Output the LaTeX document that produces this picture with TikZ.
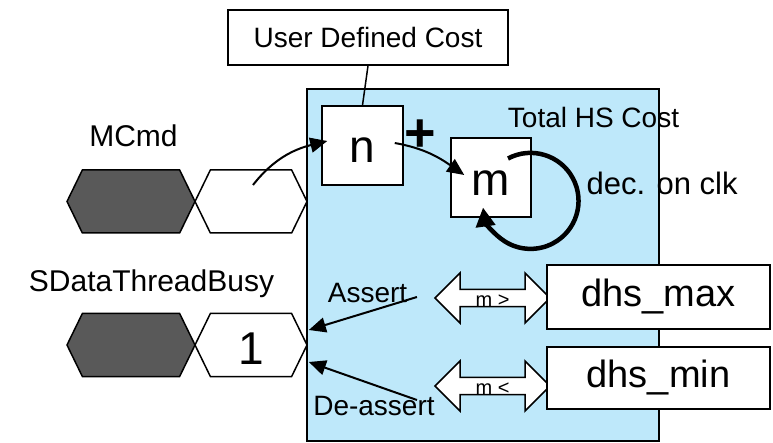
\documentclass[tikz,border=0pt]{standalone}
\usepackage{fontspec}
\setmainfont{Liberation Sans}
\usetikzlibrary{arrows.meta,shapes.symbols,shapes.arrows}
\definecolor{hsblue}{RGB}{190,232,250}
\definecolor{hexgray}{RGB}{89,89,89}
\newcommand{\fsz}[1]{\fontsize{#1}{#1}\selectfont}
\newcommand{\low}[2]{\raisebox{-#1}[\height][0pt]{#2}}
\tikzset{
  valbox/.style={draw, fill=white, line width=1.5pt, inner sep=0pt},
  hexcell/.style={shape=signal, signal to=west and east, signal pointer angle=128, draw, line width=1.5pt, minimum height=63pt, inner sep=0pt},
  cmparrow/.style={shape=double arrow, draw, fill=white, line width=1.5pt, double arrow head extend=12.5pt, minimum width=50pt, minimum height=115pt, inner sep=0pt, font=\fsz{20}},
  flow/.style={line width=2pt, -{Triangle[length=17pt,width=15pt]}},
}
\begin{document}
\begin{tikzpicture}[x=1pt,y=1pt]
\useasboundingbox (0,0) rectangle (773,-443);
\node[draw, fill=hsblue, line width=1.5pt, minimum width=352pt, minimum height=352pt, inner sep=0pt] (hs) at (483,-265) {};
\node[font=\fsz{28}, anchor=base] (hstitle) at (593.5,-128) {Total HS Cost};
\node[valbox, minimum width=280pt, minimum height=55pt, font=\fsz{28}] (udc) at (368,-37.5) {User Defined Cost};
\node[valbox, minimum width=81pt, minimum height=79pt, font=\fsz{46}] (n) at (362.5,-145.5) {\low{4.5pt}{n}};
\node[valbox, minimum width=80pt, minimum height=79pt, font=\fsz{46}] (m) at (491,-177.5) {\low{6pt}{m}};
\node[font=\bfseries\fsz{54}] (plus) at (420,-136) {+};
\node[font=\fsz{31}, anchor=base west] (dec) at (583,-195) {dec. on clk};
\node[font=\fsz{30}, anchor=base] (mcmd) at (133.5,-147) {MCmd};
\node[hexcell, fill=hexgray, minimum width=128pt] (mold) at (131,-201.5) {};
\node[hexcell, fill=white, minimum width=112pt] (mnew) at (251,-201.5) {};
\node[font=\fsz{30}, anchor=base] (busy) at (151.5,-292) {SDataThreadBusy};
\node[hexcell, fill=hexgray, minimum width=128pt] (bold) at (131,-345) {};
\node[hexcell, fill=white, minimum width=112pt, font=\fsz{46}] (bnew) at (251,-345) {\low{3.5pt}{1}};
\node[cmparrow] (gt) at (492.5,-298) {\low{3pt}{m >}};
\node[cmparrow] (lt) at (492.5,-386) {\low{3pt}{m <}};
\node[valbox, minimum width=223pt, minimum height=64pt, font=\fsz{38}] (dmax) at (658.5,-297) {dhs\_max};
\node[valbox, minimum width=223pt, minimum height=62pt, font=\fsz{38}] (dmin) at (658.5,-378) {dhs\_min};
\node[font=\fsz{28}, anchor=base] (assert) at (367.5,-303) {Assert};
\node[font=\fsz{28}, anchor=base] (deassert) at (374,-415) {De-assert};
\draw[line width=1.5pt] (udc.south) -- (n.north);
\draw[flow] ([shift={(2,16.5)}]mnew.center) to[out=52, in=194] ([shift={(6,4.5)}]n.west);
\draw[flow] ([shift={(-9,2.5)}]n.east) to[out=-10, in=145] ([shift={(14,2.5)}]m.west);
\draw[line width=4.5pt, -{Triangle[length=19pt,width=19pt]}] ([shift={(17,19)}]m.center) arc[start angle=118, end angle=-172, radius=48];
\draw[flow] ([shift={(-17,1)}]gt.west) -- ([shift={(1,15)}]bnew.east);
\draw[flow] ([shift={(-17,-14)}]lt.west) -- ([shift={(1,-17)}]bnew.east);
\end{tikzpicture}
\end{document}
